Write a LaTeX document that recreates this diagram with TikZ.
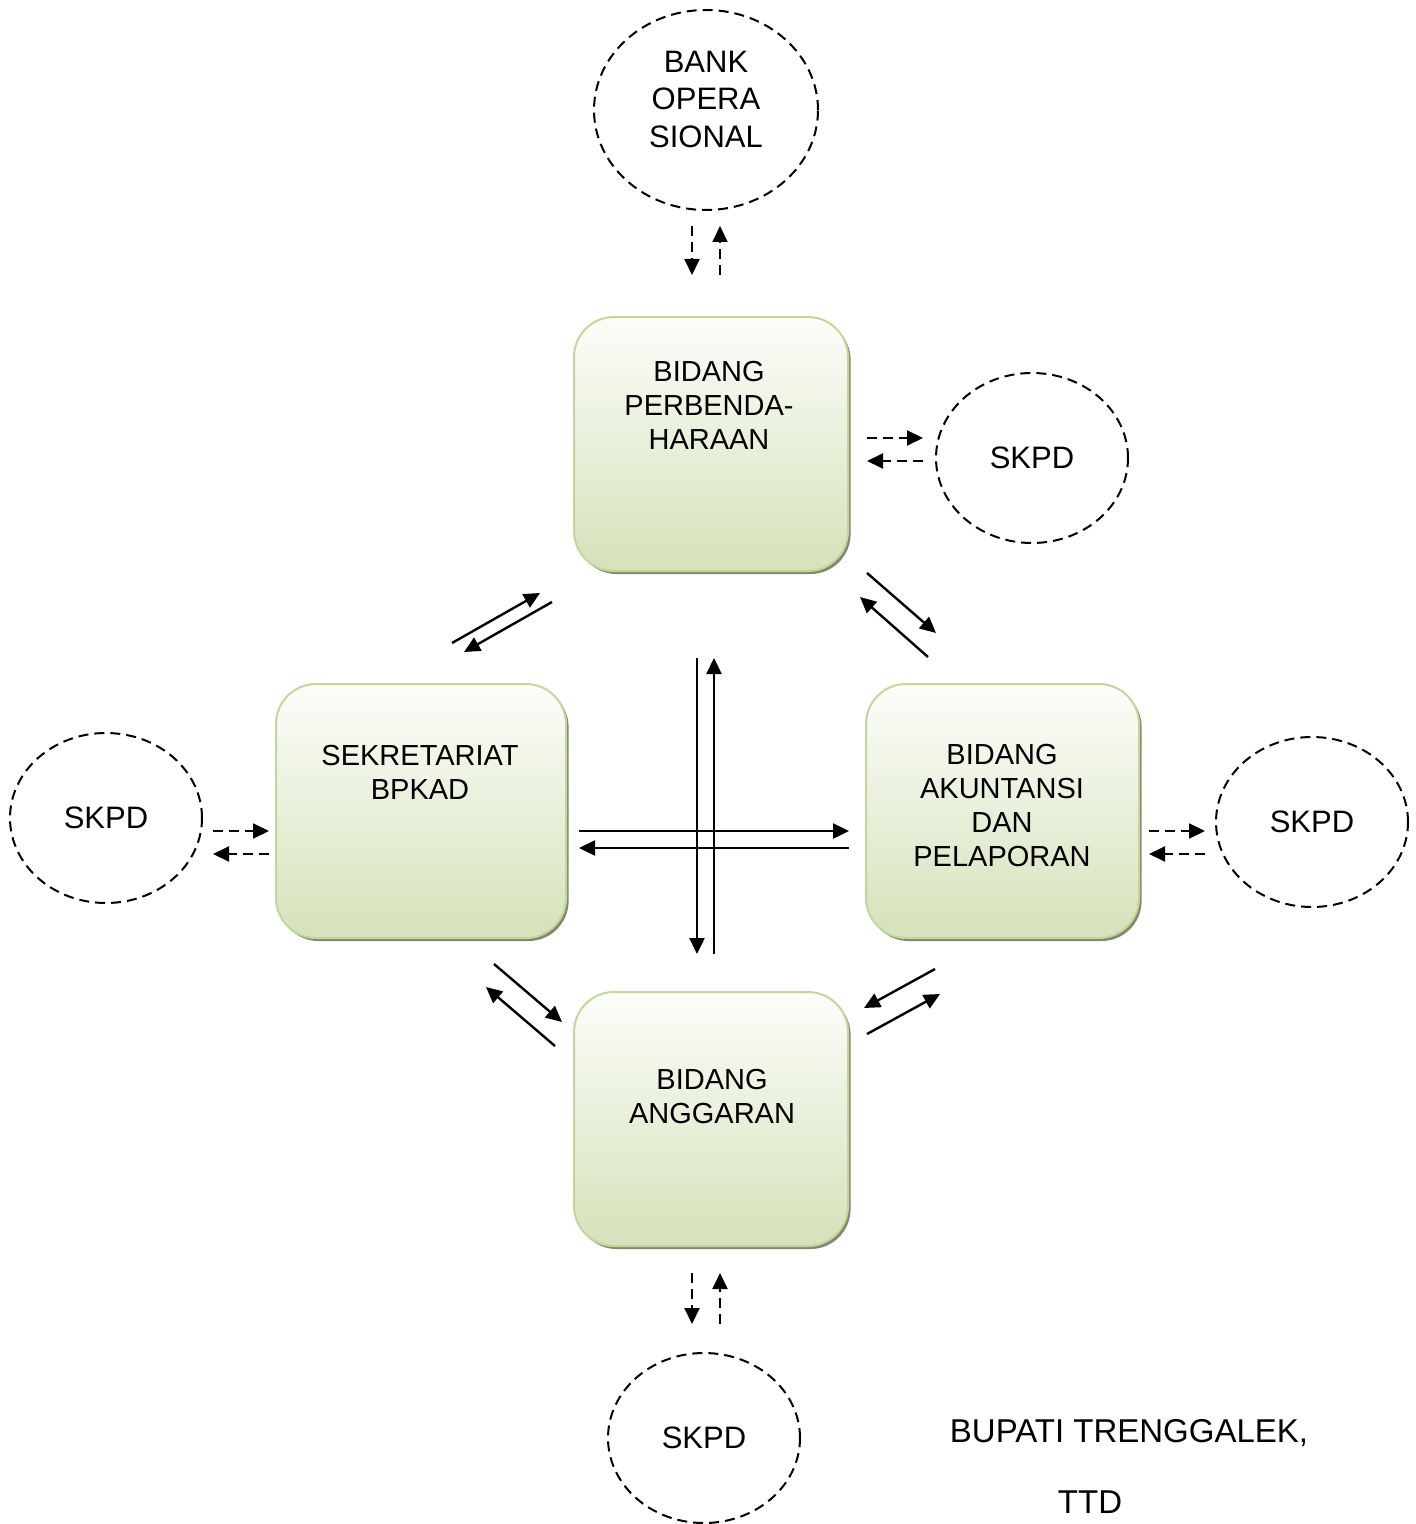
\documentclass[tikz,border=0pt]{standalone}
\usepackage{fontspec}
\setmainfont{Liberation Sans}
\usetikzlibrary{arrows.meta, positioning, calc, shapes.geometric, shadows}

\definecolor{boxline}{RGB}{195,214,155}
\definecolor{boxtop}{RGB}{252,253,250}
\definecolor{boxbottom}{RGB}{213,226,186}

\tikzset{
  unitbox/.style={draw=boxline, line width=1pt, rounded corners=20pt,
    top color=boxtop, bottom color=boxbottom,
    drop shadow={shadow xshift=1.3pt, shadow yshift=-1.5pt, fill=black!50!boxline, opacity=0.8}},
  unittext/.style={align=center, font=\fontsize{14.5}{17}\selectfont, inner sep=0pt},
  outside/.style={ellipse, draw, dash pattern=on 5pt off 3pt, line width=1pt,
    minimum width=96pt, minimum height=85pt, inner sep=0pt, align=center,
    font=\fontsize{15.5}{18.5}\selectfont},
  flow/.style={-{Triangle[length=8pt, width=7.5pt]}, line width=1.2pt},
  dflow/.style={-{Triangle[length=8pt, width=7.5pt]}, line width=1pt, dash pattern=on 5pt off 3pt},
}

\begin{document}
\begin{tikzpicture}[x=0.5pt, y=-0.5pt]
  \useasboundingbox (0,0) rectangle (1416,1524);

  % Bidang boxes
  \node[unitbox, minimum width=137pt, minimum height=127pt] (bend) at (711,444) {};
  \node[unitbox, minimum width=145pt, minimum height=127pt] (sekr) at (421,811) {};
  \node[unitbox, minimum width=136.5pt, minimum height=127pt] (akun) at (1002.5,811) {};
  \node[unitbox, minimum width=137pt, minimum height=127pt] (angg) at (711,1119) {};

  \node[unittext] (bendtxt) at (709,405) {BIDANG\\PERBENDA-\\HARAAN};
  \node[unittext] (sekrtxt) at (420,772) {SEKRETARIAT\\BPKAD};
  \node[unittext] (akuntxt) at (1002,806) {BIDANG\\AKUNTANSI\\DAN\\PELAPORAN};
  \node[unittext] (anggtxt) at (712,1097) {BIDANG\\ANGGARAN};

  % Outside parties
  \node[outside, minimum width=112pt, minimum height=100pt, text depth=11pt,
    font=\fontsize{15.5}{18.8}\selectfont] (bank) at (706,110) {BANK\\OPERA\\SIONAL};
  \node[outside] (skpda) at (1032,458) {SKPD};
  \node[outside] (skpdb) at (106,818) {SKPD};
  \node[outside] (skpdc) at (1312,822) {SKPD};
  \node[outside] (skpdd) at (704,1438) {SKPD};

  % Dashed flows
  \draw[dflow] ([shift={(-14,15)}]bank.south) -- ([shift={(-19,-41)}]bend.north);
  \draw[dflow] ([shift={(9,-41)}]bend.north) -- ([shift={(14,15)}]bank.south);

  \draw[dflow] ([shift={(18,-6)}]bend.east) -- ([shift={(-12,-20)}]skpda.west);
  \draw[dflow] ([shift={(-12,3)}]skpda.west) -- ([shift={(18,17)}]bend.east);

  \draw[dflow] ([shift={(10,13)}]skpdb.east) -- ([shift={(-6,20)}]sekr.west);
  \draw[dflow] ([shift={(-6,43)}]sekr.west) -- ([shift={(10,36)}]skpdb.east);

  \draw[dflow] ([shift={(9,20)}]akun.east) -- ([shift={(-10,9)}]skpdc.west);
  \draw[dflow] ([shift={(-10,32)}]skpdc.west) -- ([shift={(9,43)}]akun.east);

  \draw[dflow] ([shift={(-19,26)}]angg.south) -- ([shift={(-12,-28)}]skpdd.north);
  \draw[dflow] ([shift={(16,-28)}]skpdd.north) -- ([shift={(9,26)}]angg.south);

  % Solid flows between bidang
  \draw[flow] ([shift={(31,-40)}]sekr.north) -- ([shift={(-33,21)}]bend.south west);
  \draw[flow] ([shift={(-21,30)}]bend.south west) -- ([shift={(43,-31)}]sekr.north);

  \draw[flow] ([shift={(18,1)}]bend.south east) -- ([shift={(-66.5,-50)}]akun.north);
  \draw[flow] ([shift={(-74.5,-26)}]akun.north) -- ([shift={(11,25)}]bend.south east);

  \draw[flow] ([shift={(-14,86)}]bend.south) -- ([shift={(-14,-37)}]angg.north);
  \draw[flow] ([shift={(3,-37)}]angg.north) -- ([shift={(3,86)}]bend.south);

  \draw[flow] ([shift={(12,20)}]sekr.east) -- ([shift={(-16,20)}]akun.west);
  \draw[flow] ([shift={(-16,37)}]akun.west) -- ([shift={(12,37)}]sekr.east);

  \draw[flow] ([shift={(73,25)}]sekr.south) -- ([shift={(-11,31)}]angg.north west);
  \draw[flow] ([shift={(-18,55)}]angg.north west) -- ([shift={(65,48)}]sekr.south);

  \draw[flow] ([shift={(-67.5,30)}]akun.south) -- ([shift={(15,17)}]angg.north east);
  \draw[flow] ([shift={(18,43)}]angg.north east) -- ([shift={(-62.5,55)}]akun.south);

  % Signature
  \node[font=\fontsize{16.5}{20}\selectfont] (bupati) at (1129,1433) {BUPATI TRENGGALEK,};
  \node[font=\fontsize{16.5}{20}\selectfont] (ttd) at (1090,1502) {TTD};
\end{tikzpicture}
\end{document}
